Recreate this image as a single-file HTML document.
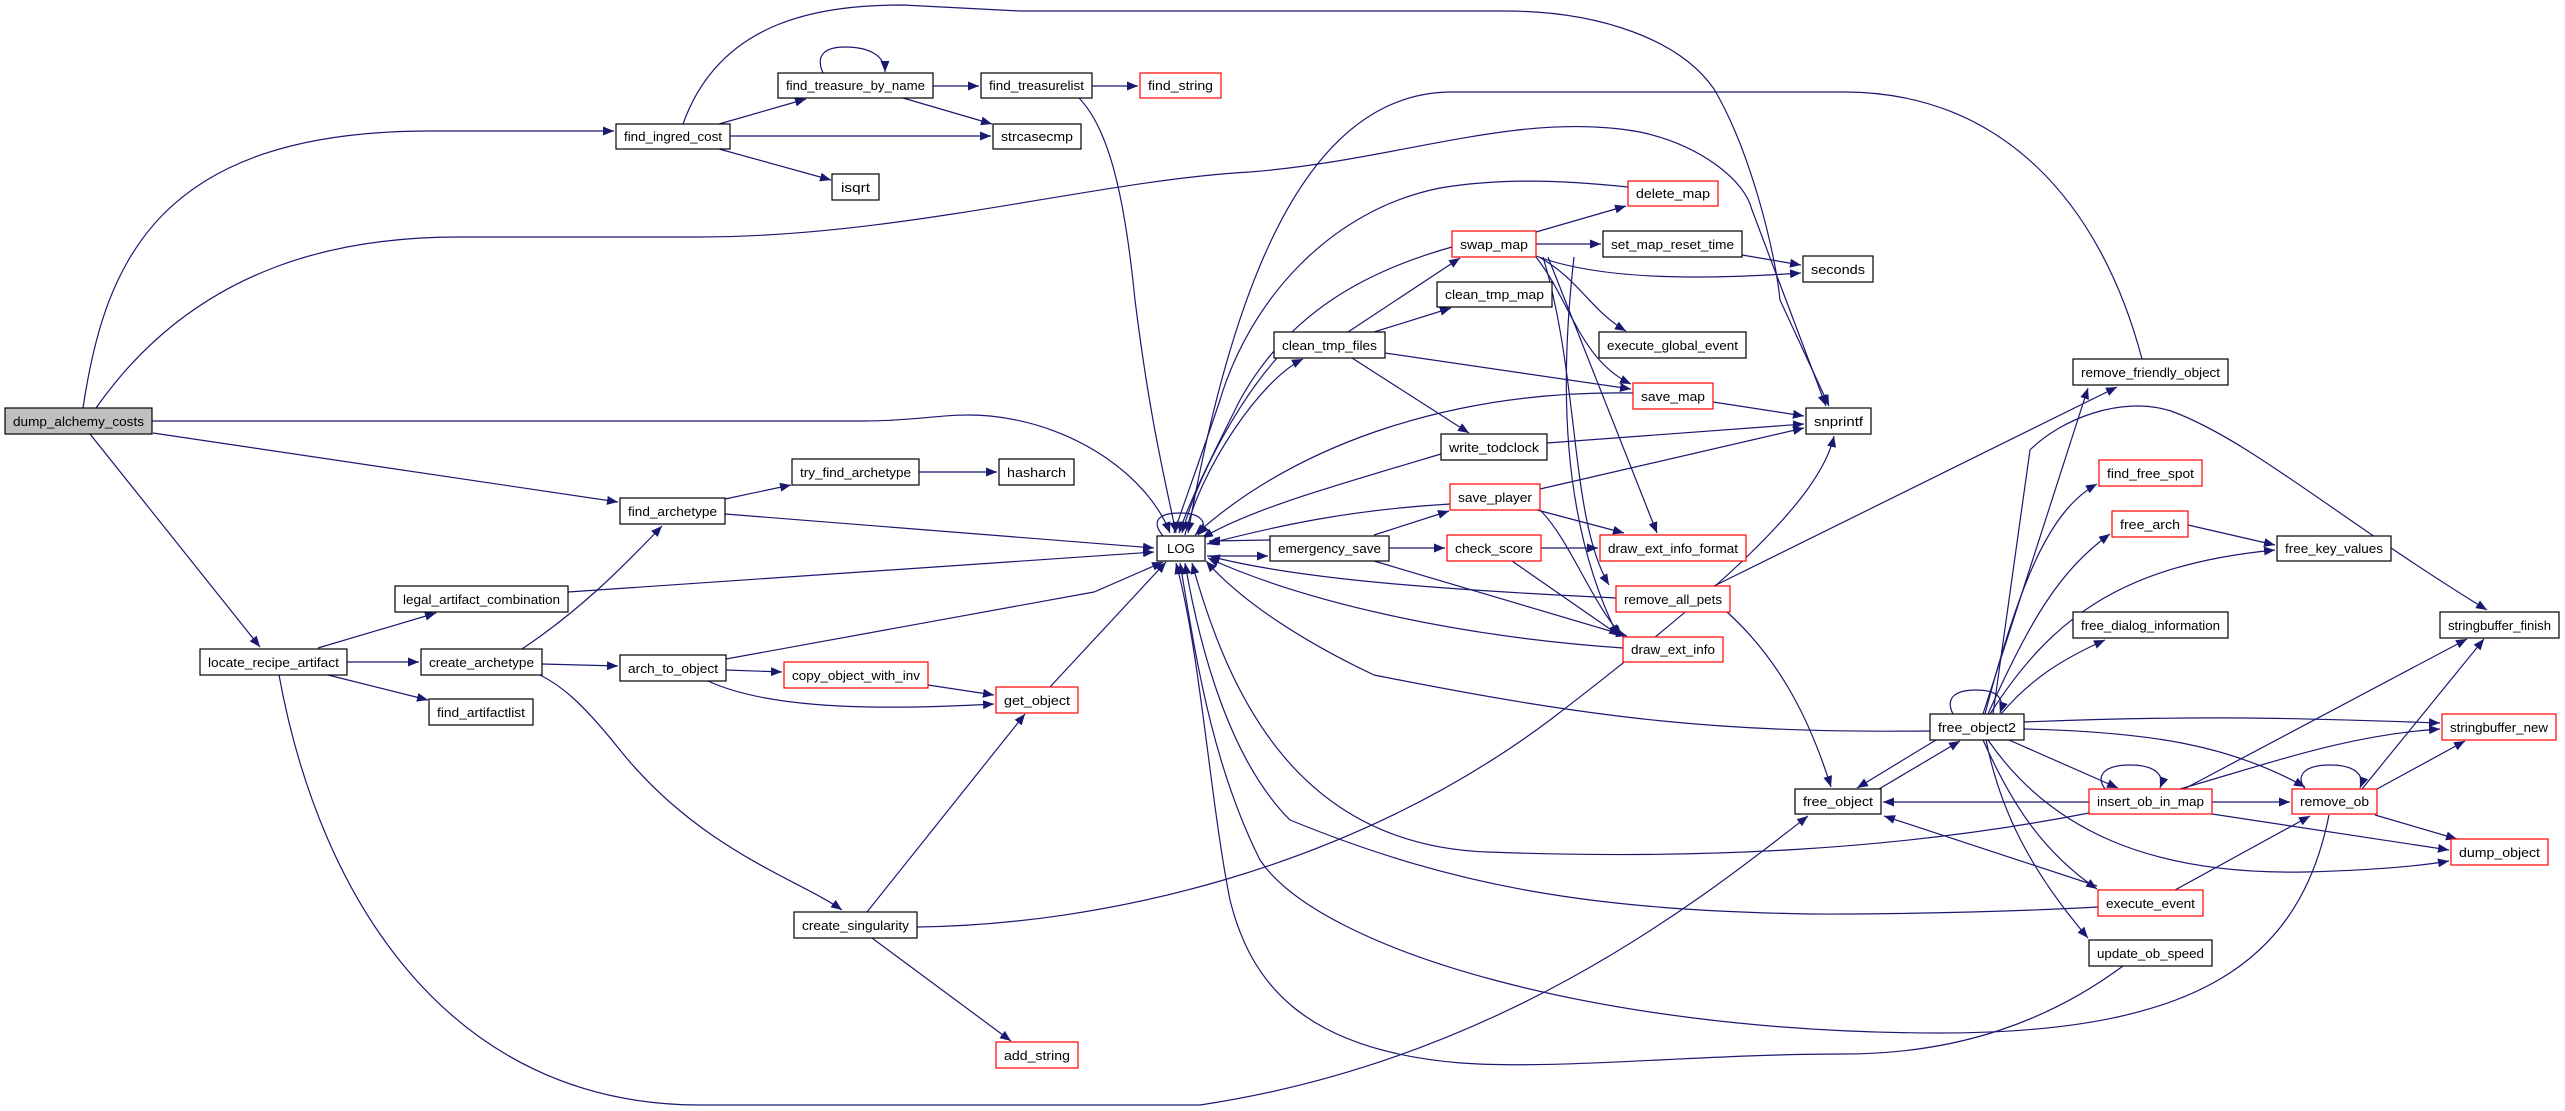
<!DOCTYPE html>
<html><head><meta charset="utf-8"><style>
html,body{margin:0;padding:0;background:#fff;width:2565px;height:1111px;overflow:hidden}
svg{display:block}
text{font-family:"Liberation Sans",sans-serif;font-size:13px;fill:#000}
.e{fill:none;stroke:#191970;stroke-width:1.2;marker-end:url(#a)}
.n{fill:#fff;stroke:#000;stroke-width:1.2}
.r{fill:#fff;stroke:#ff0000;stroke-width:1.2}
</style></head><body>
<svg width="2565" height="1111" viewBox="0 0 2565 1111" xmlns="http://www.w3.org/2000/svg">
<defs><marker id="a" markerUnits="userSpaceOnUse" markerWidth="12" markerHeight="9" refX="11" refY="4.5" orient="auto"><path d="M0,0 L11,4.5 L0,9 z" fill="#191970"/></marker></defs>
<g>
<path class="e" d="M83,408 C105,260 160,131 430,131 L614,131"/>
<path class="e" d="M96,408 C200,260 350,237 459,237 L700,237 C900,237 1100,180 1250,172 C1400,160 1520,110 1640,132 C1700,145 1745,180 1752,210 L1826,406"/>
<path class="e" d="M683,124 C720,20 820,5 903,5 L1020,11 L1505,11 C1600,11 1680,40 1714,89 C1750,150 1775,250 1780,300 L1829,406"/>
<path class="e" d="M152,421 L865,421 C920,421 950,412 990,416 C1080,425 1150,480 1170,533"/>
<path class="e" d="M153,433 L618,502"/>
<path class="e" d="M90,434 L260,647"/>
<path class="e" d="M719,124 L806,99"/>
<path class="e" d="M730,136 L991,136"/>
<path class="e" d="M719,149 L831,180"/>
<path class="e" d="M823,73 C815,55 825,47 845,47 C868,47 885,55 885,72"/>
<path class="e" d="M933,86 L979,86"/>
<path class="e" d="M903,98 L992,124"/>
<path class="e" d="M1092,86 L1138,86"/>
<path class="e" d="M1079,98 C1110,130 1125,200 1135,300 C1150,420 1165,480 1176,533"/>
<path class="e" d="M725,499 L791,485"/>
<path class="e" d="M919,472 L997,472"/>
<path class="e" d="M725,514 L1154,548"/>
<path class="e" d="M1163,536 C1150,520 1160,513 1180,513 C1200,513 1210,522 1198,535"/>
<path class="e" d="M318,648 L436,613"/>
<path class="e" d="M347,662 L419,662"/>
<path class="e" d="M328,675 L428,700"/>
<path class="e" d="M568,592 L1154,552"/>
<path class="e" d="M522,649 C580,610 620,570 662,526"/>
<path class="e" d="M542,664 L618,666"/>
<path class="e" d="M540,675 C560,685 580,700 620,750 C700,850 800,880 842,910"/>
<path class="e" d="M726,659 L1094,592 L1163,562"/>
<path class="e" d="M726,670 L782,672"/>
<path class="e" d="M708,681 C760,705 850,712 994,704"/>
<path class="e" d="M928,685 L994,695"/>
<path class="e" d="M1050,687 L1166,562"/>
<path class="e" d="M867,912 L1025,714"/>
<path class="e" d="M872,938 L1011,1041"/>
<path class="e" d="M917,927 C1100,925 1350,870 1550,720 C1720,590 1820,500 1834,436"/>
<path class="e" d="M279,675 C320,900 450,1105 700,1105 L1200,1105 C1500,1060 1700,900 1808,816"/>
<path class="e" d="M1185,535 C1200,470 1260,380 1303,359"/>
<path class="e" d="M1277,358 C1240,400 1200,470 1182,533"/>
<path class="e" d="M1348,332 L1460,258"/>
<path class="e" d="M1374,332 L1451,308"/>
<path class="e" d="M1385,353 L1631,389"/>
<path class="e" d="M1352,358 L1469,433"/>
<path class="e" d="M1452,247 C1370,270 1290,310 1240,400 C1210,460 1190,500 1179,533"/>
<path class="e" d="M1628,187 C1560,180 1500,178 1440,188 C1330,210 1250,300 1220,400 C1200,460 1185,500 1174,533"/>
<path class="e" d="M2142,359 C2100,200 2000,92 1844,92 L1452,92 C1300,92 1230,300 1188,533"/>
<path class="e" d="M1536,232 L1626,206"/>
<path class="e" d="M1536,244 L1601,244"/>
<path class="e" d="M1742,255 L1801,265"/>
<path class="e" d="M1536,256 C1600,280 1700,280 1801,273"/>
<path class="e" d="M1539,257 C1580,280 1590,310 1626,331"/>
<path class="e" d="M1536,257 C1570,300 1580,360 1631,384"/>
<path class="e" d="M1548,257 L1657,533"/>
<path class="e" d="M1543,257 C1580,380 1570,520 1609,585"/>
<path class="e" d="M1574,257 C1560,380 1560,520 1618,636"/>
<path class="e" d="M1713,402 L1804,416"/>
<path class="e" d="M1633,393 C1461,390 1300,440 1195,535"/>
<path class="e" d="M1547,443 L1804,424"/>
<path class="e" d="M1441,454 C1320,490 1250,510 1202,538"/>
<path class="e" d="M1540,489 L1804,428"/>
<path class="e" d="M1450,504 C1350,510 1280,525 1207,544"/>
<path class="e" d="M1537,510 L1624,533"/>
<path class="e" d="M1540,510 C1570,540 1590,600 1622,636"/>
<path class="e" d="M1374,535 L1449,511"/>
<path class="e" d="M1388,548 L1445,548"/>
<path class="e" d="M1541,548 L1598,548"/>
<path class="e" d="M1270,540 L1209,541"/>
<path class="e" d="M1207,556 L1268,556"/>
<path class="e" d="M1374,561 L1627,636"/>
<path class="e" d="M1512,561 L1620,636"/>
<path class="e" d="M1616,598 C1450,590 1300,580 1209,556"/>
<path class="e" d="M1714,586 L2117,387"/>
<path class="e" d="M1727,612 C1780,660 1810,720 1831,787"/>
<path class="e" d="M1623,648 C1450,636 1300,600 1208,558"/>
<path class="e" d="M1930,731 C1722,733 1600,720 1374,675 C1300,640 1240,600 1206,561"/>
<path class="e" d="M1983,714 L2088,388"/>
<path class="e" d="M1985,714 C2020,580 2050,510 2097,484"/>
<path class="e" d="M1988,714 C2030,620 2060,570 2110,534"/>
<path class="e" d="M1990,714 C2050,620 2120,565 2275,550"/>
<path class="e" d="M2188,525 L2275,545"/>
<path class="e" d="M1993,714 L2030,450 C2060,420 2120,395 2171,411 C2250,440 2340,520 2487,610"/>
<path class="e" d="M2001,714 C2030,680 2060,660 2105,640"/>
<path class="e" d="M1953,714 C1945,698 1955,690 1976,690 C1997,690 2005,698 2000,713"/>
<path class="e" d="M2024,722 C2200,715 2300,718 2440,723"/>
<path class="e" d="M1936,740 L1857,788"/>
<path class="e" d="M1879,789 L1960,741"/>
<path class="e" d="M2009,740 L2118,788"/>
<path class="e" d="M2024,729 C2150,732 2230,745 2305,787"/>
<path class="e" d="M1983,740 C2010,800 2040,850 2097,889"/>
<path class="e" d="M1986,740 C2000,810 2030,870 2088,938"/>
<path class="e" d="M1988,740 C2050,830 2150,875 2305,872 C2380,870 2420,866 2449,861"/>
<path class="e" d="M2105,789 C2095,775 2105,765 2130,765 C2155,765 2165,775 2160,788"/>
<path class="e" d="M2089,802 L1883,802"/>
<path class="e" d="M2212,802 L2290,802"/>
<path class="e" d="M2184,789 L2467,639"/>
<path class="e" d="M2180,789 C2280,760 2350,735 2440,729"/>
<path class="e" d="M2212,814 L2449,850"/>
<path class="e" d="M2089,813 C1900,850 1700,860 1487,852 C1300,845 1230,700 1192,563"/>
<path class="e" d="M2305,789 C2295,775 2305,765 2330,765 C2355,765 2365,775 2360,788"/>
<path class="e" d="M2362,789 L2484,639"/>
<path class="e" d="M2377,789 L2465,741"/>
<path class="e" d="M2375,815 L2457,839"/>
<path class="e" d="M2329,815 C2300,960 2200,1033 1940,1033 C1600,1033 1320,950 1260,860 C1210,760 1195,650 1180,563"/>
<path class="e" d="M2175,890 L2310,816"/>
<path class="e" d="M2097,886 L1884,816"/>
<path class="e" d="M2098,907 C1950,915 1809,914 1809,914 C1600,910 1461,890 1290,820 C1230,760 1200,650 1185,563"/>
<path class="e" d="M2123,966 C2050,1020 1960,1054 1844,1054 C1700,1054 1560,1070 1461,1063 C1300,1050 1250,980 1230,900 C1210,800 1200,650 1176,563"/>
</g>
<g>
<rect x="5" y="408" width="147" height="26" fill="#bfbfbf" stroke="#000" stroke-width="1.2"/><text x="13" y="426" textLength="131" lengthAdjust="spacingAndGlyphs">dump_alchemy_costs</text>
<rect class="n" x="616" y="124" width="114" height="25"/><text x="624" y="141" textLength="98" lengthAdjust="spacingAndGlyphs">find_ingred_cost</text>
<rect class="n" x="778" y="73" width="155" height="25"/><text x="786" y="90" textLength="139" lengthAdjust="spacingAndGlyphs">find_treasure_by_name</text>
<rect class="n" x="981" y="73" width="111" height="25"/><text x="989" y="90" textLength="95" lengthAdjust="spacingAndGlyphs">find_treasurelist</text>
<rect class="r" x="1140" y="73" width="81" height="25"/><text x="1148" y="90" textLength="65" lengthAdjust="spacingAndGlyphs">find_string</text>
<rect class="n" x="993" y="124" width="88" height="25"/><text x="1001" y="141" textLength="72" lengthAdjust="spacingAndGlyphs">strcasecmp</text>
<rect class="n" x="832" y="174" width="47" height="26"/><text x="841" y="192" textLength="29" lengthAdjust="spacingAndGlyphs">isqrt</text>
<rect class="n" x="792" y="459" width="127" height="26"/><text x="800" y="477" textLength="111" lengthAdjust="spacingAndGlyphs">try_find_archetype</text>
<rect class="n" x="999" y="459" width="75" height="26"/><text x="1007" y="477" textLength="59" lengthAdjust="spacingAndGlyphs">hasharch</text>
<rect class="n" x="620" y="498" width="105" height="26"/><text x="628" y="516" textLength="89" lengthAdjust="spacingAndGlyphs">find_archetype</text>
<rect class="n" x="1157" y="536" width="48" height="25"/><text x="1167" y="553" textLength="28" lengthAdjust="spacingAndGlyphs">LOG</text>
<rect class="n" x="395" y="586" width="173" height="26"/><text x="403" y="604" textLength="157" lengthAdjust="spacingAndGlyphs">legal_artifact_combination</text>
<rect class="n" x="200" y="649" width="147" height="26"/><text x="208" y="667" textLength="131" lengthAdjust="spacingAndGlyphs">locate_recipe_artifact</text>
<rect class="n" x="421" y="649" width="121" height="26"/><text x="429" y="667" textLength="105" lengthAdjust="spacingAndGlyphs">create_archetype</text>
<rect class="n" x="429" y="699" width="104" height="26"/><text x="437" y="717" textLength="88" lengthAdjust="spacingAndGlyphs">find_artifactlist</text>
<rect class="n" x="620" y="655" width="106" height="26"/><text x="628" y="673" textLength="90" lengthAdjust="spacingAndGlyphs">arch_to_object</text>
<rect class="r" x="784" y="662" width="144" height="26"/><text x="792" y="680" textLength="128" lengthAdjust="spacingAndGlyphs">copy_object_with_inv</text>
<rect class="r" x="996" y="687" width="82" height="26"/><text x="1004" y="705" textLength="66" lengthAdjust="spacingAndGlyphs">get_object</text>
<rect class="n" x="794" y="912" width="123" height="26"/><text x="802" y="930" textLength="107" lengthAdjust="spacingAndGlyphs">create_singularity</text>
<rect class="r" x="996" y="1042" width="82" height="26"/><text x="1004" y="1060" textLength="66" lengthAdjust="spacingAndGlyphs">add_string</text>
<rect class="r" x="1628" y="181" width="90" height="25"/><text x="1636" y="198" textLength="74" lengthAdjust="spacingAndGlyphs">delete_map</text>
<rect class="r" x="1452" y="231" width="84" height="26"/><text x="1460" y="249" textLength="68" lengthAdjust="spacingAndGlyphs">swap_map</text>
<rect class="n" x="1603" y="231" width="139" height="26"/><text x="1611" y="249" textLength="123" lengthAdjust="spacingAndGlyphs">set_map_reset_time</text>
<rect class="n" x="1803" y="256" width="70" height="26"/><text x="1811" y="274" textLength="54" lengthAdjust="spacingAndGlyphs">seconds</text>
<rect class="n" x="1437" y="282" width="115" height="25"/><text x="1445" y="299" textLength="99" lengthAdjust="spacingAndGlyphs">clean_tmp_map</text>
<rect class="n" x="1274" y="332" width="111" height="26"/><text x="1282" y="350" textLength="95" lengthAdjust="spacingAndGlyphs">clean_tmp_files</text>
<rect class="n" x="1599" y="332" width="147" height="26"/><text x="1607" y="350" textLength="131" lengthAdjust="spacingAndGlyphs">execute_global_event</text>
<rect class="n" x="2073" y="359" width="155" height="26"/><text x="2081" y="377" textLength="139" lengthAdjust="spacingAndGlyphs">remove_friendly_object</text>
<rect class="r" x="1633" y="383" width="80" height="26"/><text x="1641" y="401" textLength="64" lengthAdjust="spacingAndGlyphs">save_map</text>
<rect class="n" x="1806" y="408" width="65" height="26"/><text x="1814" y="426" textLength="49" lengthAdjust="spacingAndGlyphs">snprintf</text>
<rect class="n" x="1441" y="434" width="106" height="26"/><text x="1449" y="452" textLength="90" lengthAdjust="spacingAndGlyphs">write_todclock</text>
<rect class="r" x="2099" y="460" width="103" height="26"/><text x="2107" y="478" textLength="87" lengthAdjust="spacingAndGlyphs">find_free_spot</text>
<rect class="r" x="1450" y="484" width="90" height="26"/><text x="1458" y="502" textLength="74" lengthAdjust="spacingAndGlyphs">save_player</text>
<rect class="r" x="2112" y="511" width="76" height="26"/><text x="2120" y="529" textLength="60" lengthAdjust="spacingAndGlyphs">free_arch</text>
<rect class="n" x="1270" y="536" width="119" height="25"/><text x="1278" y="553" textLength="103" lengthAdjust="spacingAndGlyphs">emergency_save</text>
<rect class="r" x="1447" y="535" width="94" height="26"/><text x="1455" y="553" textLength="78" lengthAdjust="spacingAndGlyphs">check_score</text>
<rect class="r" x="1600" y="535" width="146" height="26"/><text x="1608" y="553" textLength="130" lengthAdjust="spacingAndGlyphs">draw_ext_info_format</text>
<rect class="n" x="2277" y="536" width="114" height="25"/><text x="2285" y="553" textLength="98" lengthAdjust="spacingAndGlyphs">free_key_values</text>
<rect class="r" x="1616" y="586" width="114" height="26"/><text x="1624" y="604" textLength="98" lengthAdjust="spacingAndGlyphs">remove_all_pets</text>
<rect class="r" x="1623" y="637" width="100" height="25"/><text x="1631" y="654" textLength="84" lengthAdjust="spacingAndGlyphs">draw_ext_info</text>
<rect class="n" x="2073" y="612" width="155" height="26"/><text x="2081" y="630" textLength="139" lengthAdjust="spacingAndGlyphs">free_dialog_information</text>
<rect class="n" x="2440" y="612" width="119" height="26"/><text x="2448" y="630" textLength="103" lengthAdjust="spacingAndGlyphs">stringbuffer_finish</text>
<rect class="n" x="1930" y="714" width="94" height="26"/><text x="1938" y="732" textLength="78" lengthAdjust="spacingAndGlyphs">free_object2</text>
<rect class="r" x="2442" y="714" width="114" height="26"/><text x="2450" y="732" textLength="98" lengthAdjust="spacingAndGlyphs">stringbuffer_new</text>
<rect class="n" x="1795" y="789" width="86" height="25"/><text x="1803" y="806" textLength="70" lengthAdjust="spacingAndGlyphs">free_object</text>
<rect class="r" x="2089" y="789" width="123" height="25"/><text x="2097" y="806" textLength="107" lengthAdjust="spacingAndGlyphs">insert_ob_in_map</text>
<rect class="r" x="2292" y="789" width="85" height="25"/><text x="2300" y="806" textLength="69" lengthAdjust="spacingAndGlyphs">remove_ob</text>
<rect class="r" x="2451" y="839" width="97" height="26"/><text x="2459" y="857" textLength="81" lengthAdjust="spacingAndGlyphs">dump_object</text>
<rect class="r" x="2098" y="890" width="105" height="26"/><text x="2106" y="908" textLength="89" lengthAdjust="spacingAndGlyphs">execute_event</text>
<rect class="n" x="2089" y="940" width="123" height="26"/><text x="2097" y="958" textLength="107" lengthAdjust="spacingAndGlyphs">update_ob_speed</text>
</g>
</svg>
</body></html>
